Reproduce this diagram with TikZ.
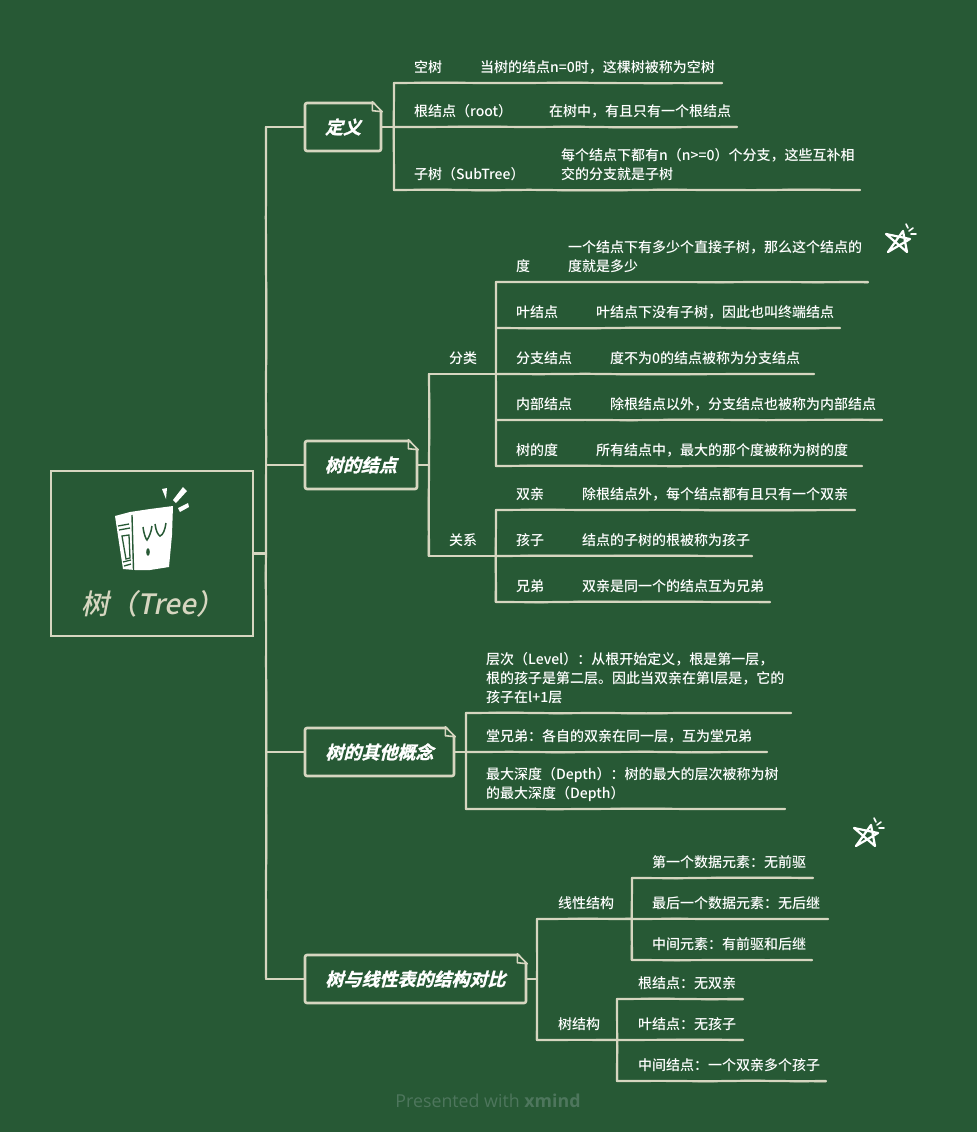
\documentclass[tikz,border=0pt]{standalone}
\usepackage{fontspec}
\setmainfont{Noto Sans CJK SC Medium}
\newfontfamily\boxfont[FakeSlant=0.25,FakeBold=1.2]{Noto Sans CJK SC Bold}
\newfontfamily\rootfont[FakeSlant=0.2]{Noto Sans CJK SC Medium}
\newfontfamily\markfont{Open Sans}
\usetikzlibrary{calc,decorations.pathmorphing}
\definecolor{chalkbg}{RGB}{39,89,53}
\definecolor{chalkline}{RGB}{214,214,192}
\definecolor{markgreen}{RGB}{78,118,93}
\tikzset{
  chalk/.style={draw=chalkline,line width=2.2pt,line cap=round,line join=round,
    decorate,decoration={random steps,segment length=45pt,amplitude=0.35pt},
    postaction={draw,line width=1.6pt,decorate,decoration={random steps,segment length=70pt,amplitude=0.9pt}}},
  topicbox/.style={draw=chalkline,line width=2.6pt,rounded corners=2pt,minimum height=48pt,
    text=white,font=\boxfont\fontsize{18}{22}\selectfont,inner sep=0pt},
  term/.style={anchor=west,text=white,font=\fontsize{14}{19}\selectfont,inner sep=0pt,yshift=0.6pt},
  desc/.style={term,align=left},
  fold/.style={draw=chalkline,line width=1.6pt,line join=round},
  pics/chalkstar/.style={code={
    \draw[white,line width=2.2pt,line join=round] (-12,-7) -- (12,-2) -- (-10,11) -- (5,-10) -- (9,11) -- cycle;
    \draw[white,line width=1.6pt,line cap=round] (8,-17) -- (10,-13) (11,-10) -- (15,-13) (13,-7) -- (18,-7);
  }}
}
\newcommand{\foldcorner}[1]{
  \fill[chalkbg] ($(#1.north east)+(-10,-2)$) -- ($(#1.north east)+(2,-2)$) -- ($(#1.north east)+(2,10)$) -- ($(#1.north east)+(0,10)$) -- cycle;
  \draw[fold] ($(#1.north east)+(-10,0)$) -- ($(#1.north east)+(0,10)$) -- ($(#1.north east)+(-10,9)$) -- cycle;
}
\begin{document}
\begin{tikzpicture}[x=1pt,y=-1pt]
    \pgfmathsetseed{7}
    \useasboundingbox (0,0) rectangle (977,1132);
    \fill[chalkbg] (0,0) rectangle (977,1132);

    % Root box and its label
    \node[draw=chalkline,line width=2.8pt,minimum width=202pt,minimum height=165pt] (root) at (152,553.5) {};
    \node[text=chalkline,font=\rootfont\fontsize{28}{32}\selectfont,inner sep=0pt] (roottext) at (153,603.5) {树（Tree）};

    % Book icon
    \fill[white] (115,516) -- (130,512) -- (150,509) -- (173,506) -- (172,535) -- (169,567) -- (150,570) -- (135,570) -- (123,569) -- cycle;
    \draw[chalkbg,line width=1.4pt] (132,515) -- (133.5,570);
    \draw[chalkbg,line width=1.3pt] (118,526) -- (129,524) (119,530) -- (130,528) (123,562) -- (131,560) (124,566) -- (131,564);
    \draw[chalkbg,line width=1.3pt] (122,536) -- (129,535) -- (130,558) -- (126,559) -- cycle;
    \draw[chalkbg,line width=1.5pt] (143,527) .. controls (144,535) and (146,539) .. (147,540) .. controls (149,537) and (151,533) .. (152,526);
    \draw[chalkbg,line width=1.5pt] (155,524) .. controls (156,531) and (158,535) .. (160,536) .. controls (163,535) and (165,530) .. (166,523);
    \fill[chalkbg] (148,552) ellipse (1.8 and 3.8);
    \fill[white] (162,489) -- (167,488) -- (166,499) -- cycle;
    \fill[white] (183,487) -- (187,491) -- (176,503) -- (173,500) -- cycle;
    \fill[white] (178,508) -- (188,503) -- (189,507) -- (180,512) -- cycle;

    % Main spine
    \coordinate (spinetop) at (266,127);
    \coordinate (spinebot) at (266,978);
    \draw[chalk] (spinetop) -- (spinebot);
    \draw[chalk] (root.east) -- (root.east -| spinetop);

    % Topic boxes
    \node[topicbox,minimum width=76pt] (dingyi) at (343,127) {\raisebox{-1pt}{定义}};
    \node[topicbox,minimum width=112pt] (jiedian) at (361,465) {\raisebox{-1pt}{树的结点}};
    \node[topicbox,minimum width=149pt] (gainian) at (379.5,752) {\raisebox{-1pt}{树的其他概念}};
    \node[topicbox,minimum width=221pt] (duibi) at (415.5,979) {\raisebox{-1pt}{树与线性表的结构对比}};
    \foldcorner{dingyi}
    \foldcorner{jiedian}
    \foldcorner{gainian}
    \foldcorner{duibi}
    \draw[chalk] (spinetop |- dingyi.west) -- (dingyi.west);
    \draw[chalk] (spinetop |- jiedian.west) -- (jiedian.west);
    \draw[chalk] (spinetop |- gainian.west) -- (gainian.west);
    \draw[chalk] (spinetop |- duibi.west) -- (duibi.west);

    % Definition branch
    \coordinate (dinga) at (394,83);
    \coordinate (dingb) at (394,127);
    \coordinate (dingc) at (394,190);
    \coordinate (dingae) at (722,83);
    \coordinate (dingbe) at (737,127);
    \coordinate (dingce) at (860,190);
    \node[term] (kongshu) at (414,68) {空树};
    \node[term] (kongshud) at (480,68) {当树的结点n=0时，这棵树被称为空树};
    \node[term] (genjd) at (414,112) {根结点（root）};
    \node[term] (genjdd) at (549,112) {在树中，有且只有一个根结点};
    \node[term] (zishu) at (414,175) {子树（SubTree）};
    \node[desc] (zishud) at (561,165.5) {每个结点下都有n（n>=0）个分支，这些互补相\\交的分支就是子树};
    \draw[chalk] (dinga) -- (dingc);
    \draw[chalk] (dingb) -- (dingbe);
    \draw[chalk] (dinga) -- (dingae);
    \draw[chalk] (dingc) -- (dingce);
    \draw[chalk] (dingyi.east) -- (dingyi.east -| dingb);

    % Node branch
    \coordinate (fenlei) at (429,374);
    \coordinate (guanxi) at (429,556);
    \node[term] (fenleit) at (449,359) {分类};
    \node[term] (guanxit) at (449,541) {关系};
    \coordinate (fenleie) at (496,374);
    \coordinate (guanxie) at (496,556);
    \draw[chalk] (fenlei) -- (guanxi);
    \draw[chalk] (fenlei) -- (fenleie);
    \draw[chalk] (guanxi) -- (guanxie);
    \draw[chalk] (jiedian.east) -- (jiedian.east -| fenlei);

    \coordinate (fa) at (496,282);
    \coordinate (fb) at (496,328);
    \coordinate (fd) at (496,420);
    \coordinate (fe) at (496,466);
    \coordinate (ga) at (496,510);
    \coordinate (gc) at (496,602);
    \coordinate (fae) at (868,282);
    \coordinate (fbe) at (840,328);
    \coordinate (fce) at (814,374);
    \coordinate (fde) at (882,420);
    \coordinate (fee) at (862,466);
    \coordinate (gae) at (855,510);
    \coordinate (gbe) at (752,556);
    \coordinate (gce) at (770,602);
    \node[term] (du) at (516,267) {度};
    \node[desc] (dud) at (568,257.5) {一个结点下有多少个直接子树，那么这个结点的\\度就是多少};
    \node[term] (yejd) at (516,313) {叶结点};
    \node[term] (yejdd) at (596,313) {叶结点下没有子树，因此也叫终端结点};
    \node[term] (fzjd) at (516,359) {分支结点};
    \node[term] (fzjdd) at (610,359) {度不为0的结点被称为分支结点};
    \node[term] (nbjd) at (516,405) {内部结点};
    \node[term] (nbjdd) at (610,405) {除根结点以外，分支结点也被称为内部结点};
    \node[term] (shudu) at (516,451) {树的度};
    \node[term] (shudud) at (596,451) {所有结点中，最大的那个度被称为树的度};
    \node[term] (shuangq) at (516,495) {双亲};
    \node[term] (shuangqd) at (582,495) {除根结点外，每个结点都有且只有一个双亲};
    \node[term] (haizi) at (516,541) {孩子};
    \node[term] (haizid) at (582,541) {结点的子树的根被称为孩子};
    \node[term] (xiongdi) at (516,587) {兄弟};
    \node[term] (xiongdid) at (582,587) {双亲是同一个的结点互为兄弟};
    \draw[chalk] (fa) -- (fe);
    \draw[chalk] (ga) -- (gc);
    \draw[chalk] (fa) -- (fae);
    \draw[chalk] (fb) -- (fbe);
    \draw[chalk] (fenleie) -- (fce);
    \draw[chalk] (fd) -- (fde);
    \draw[chalk] (fe) -- (fee);
    \draw[chalk] (ga) -- (gae);
    \draw[chalk] (guanxie) -- (gbe);
    \draw[chalk] (gc) -- (gce);

    % Other concepts branch
    \coordinate (ca) at (466,713);
    \coordinate (cb) at (466,752);
    \coordinate (cc) at (466,809);
    \coordinate (cae) at (791,713);
    \coordinate (cbe) at (767,752);
    \coordinate (cce) at (785,809);
    \node[desc] (cengci) at (486,679) {层次（Level）：从根开始定义，根是第一层，\\根的孩子是第二层。因此当双亲在第l层是，它的\\孩子在l+1层};
    \node[term] (tangxd) at (486,737) {堂兄弟：各自的双亲在同一层，互为堂兄弟};
    \node[desc] (shendu) at (486,785.5) {最大深度（Depth）：树的最大的层次被称为树\\的最大深度（Depth）};
    \draw[chalk] (ca) -- (cc);
    \draw[chalk] (ca) -- (cae);
    \draw[chalk] (cb) -- (cbe);
    \draw[chalk] (cc) -- (cce);
    \draw[chalk] (gainian.east) -- (gainian.east -| cb);

    % Comparison branch
    \coordinate (xian) at (537,919);
    \coordinate (shug) at (537,1040);
    \coordinate (xiane) at (632,919);
    \coordinate (shuge) at (617,1040);
    \node[term] (xiant) at (558,904) {线性结构};
    \node[term] (shugt) at (558,1025) {树结构};
    \draw[chalk] (xian) -- (shug);
    \draw[chalk] (xian) -- (xiane);
    \draw[chalk] (shug) -- (shuge);
    \draw[chalk] (duibi.east) -- (duibi.east -| xian);

    \coordinate (xa) at (632,878);
    \coordinate (xc) at (632,960);
    \coordinate (xae) at (813,878);
    \coordinate (xbe) at (828,919);
    \coordinate (xce) at (812,960);
    \coordinate (sa) at (617,999);
    \coordinate (sc) at (617,1081);
    \coordinate (sae) at (743,999);
    \coordinate (sbe) at (743,1040);
    \coordinate (sce) at (826,1081);
    \node[term] (qianqu) at (652,863) {第一个数据元素：无前驱};
    \node[term] (houji) at (652,904) {最后一个数据元素：无后继};
    \node[term] (zhongj) at (652,945) {中间元素：有前驱和后继};
    \node[term] (gensj) at (638,984) {根结点：无双亲};
    \node[term] (yesj) at (638,1025) {叶结点：无孩子};
    \node[term] (zhongs) at (638,1066) {中间结点：一个双亲多个孩子};
    \draw[chalk] (xa) -- (xc);
    \draw[chalk] (sa) -- (sc);
    \draw[chalk] (xa) -- (xae);
    \draw[chalk] (xiane) -- (xbe);
    \draw[chalk] (xc) -- (xce);
    \draw[chalk] (sa) -- (sae);
    \draw[chalk] (shuge) -- (sbe);
    \draw[chalk] (sc) -- (sce);

    % Star marks
    \pic at (898,241) {chalkstar};
    \pic at (866,835) {chalkstar};

    % Footer
    \node[text=markgreen,font=\markfont\fontsize{17.8}{20}\selectfont,inner sep=0pt] (footer) at (488,1100.5) {Presented with \textbf{xmind}};
\end{tikzpicture}
\end{document}
